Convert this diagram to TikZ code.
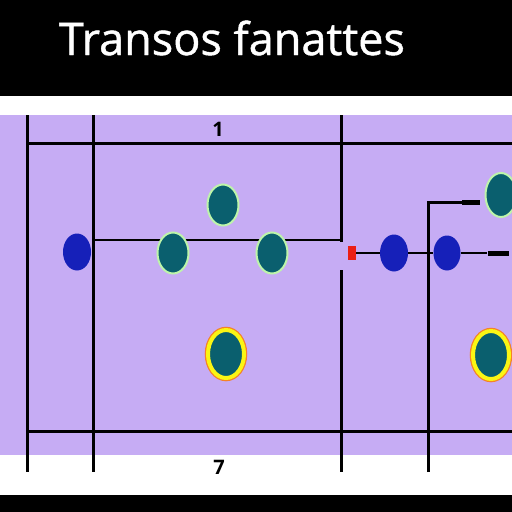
\documentclass[tikz,border=0pt]{standalone}
\usepackage{fontspec}
\setmainfont{Open Sans}
\newfontfamily\titlefont[FakeBold=1]{Open Sans}
\usetikzlibrary{shapes.geometric}
\definecolor{lav}{RGB}{198,172,244}
\definecolor{tealc}{RGB}{10,95,110}
\definecolor{ringg}{RGB}{190,245,170}
\definecolor{blu}{RGB}{22,32,185}
\definecolor{ylw}{RGB}{250,245,20}
\definecolor{org}{RGB}{245,130,40}
\definecolor{redc}{RGB}{235,30,20}
\begin{document}
\begin{tikzpicture}[x=1pt,y=-1pt,
 grid/.style={line width=3pt, black},
 wire/.style={line width=2.5pt, black},
 tealdot/.style={ellipse, fill=tealc, draw=ringg, line width=2pt, minimum width=31pt, minimum height=41pt, inner sep=0pt},
 bluedot/.style={ellipse, fill=blu, minimum width=28pt, minimum height=37pt, inner sep=0pt},
 hotdot/.style={ellipse, fill=tealc, draw=ylw, line width=4pt, preaction={draw=org, line width=6.5pt}, minimum width=36pt, minimum height=48pt, inner sep=0pt},
 tipbox/.style={rectangle, fill=black, minimum width=18pt, minimum height=5pt, inner sep=0pt},
 lbl/.style={font=\fontsize{20}{20}\selectfont\bfseries}
]
\useasboundingbox (0,0) rectangle (512,512);
\fill[white] (0,0) rectangle (512,512);
\fill[black] (0,0) rectangle (512,96);
\fill[lav] (0,115) rectangle (512,455);
\fill[black] (0,495) rectangle (512,512);

\node[text=white, anchor=base, font=\titlefont\fontsize{45}{50}\selectfont] (title) at (232,55) {Transos fanattes};

\coordinate (v1t) at (27,115); \coordinate (v1b) at (27,472);
\coordinate (v2t) at (93,115); \coordinate (v2b) at (93,472);
\coordinate (v3t) at (341,115); \coordinate (v3m) at (341,242);
\coordinate (v3g) at (341,270); \coordinate (v3b) at (341,472);
\coordinate (v4t) at (428,202); \coordinate (v4b) at (428,472);
\coordinate (h1l) at (27,143); \coordinate (h1r) at (512,143);
\coordinate (h2l) at (27,431); \coordinate (h2r) at (512,431);
\coordinate (h3l) at (93,240); \coordinate (h3r) at (341,240);

\draw[grid] (v1t) -- (v1b);
\draw[grid] (v2t) -- (v2b);
\draw[grid] (v3t) -- (v3m);
\draw[grid] (v3g) -- (v3b);
\draw[grid] (h1l) -- (h1r);
\draw[grid] (h2l) -- (h2r);
\draw[wire] (h3l) -- (h3r);

\node[lbl] (n1) at (218,129) {1};
\node[lbl] (n7) at (219,467) {7};

\node[bluedot] (b1) at (77,252) {};
\node[tealdot] (t1) at (223,205) {};
\node[tealdot] (t2) at (173,253) {};
\node[tealdot] (t3) at (272,253) {};
\node[rectangle, fill=redc, minimum width=8pt, minimum height=14pt, inner sep=0pt] (r1) at (352,253) {};
\node[bluedot] (b2) at (394,253) {};
\node[bluedot, minimum width=27pt, minimum height=35pt] (b3) at (447,253) {};
\node[tealdot, minimum height=44pt] (t4) at (501,195) {};
\node[hotdot] (y1) at (226,354) {};
\node[hotdot] (y2) at (491,355) {};
\node[tipbox] (tip1) at (471,202) {};
\node[tipbox, minimum width=21pt] (tip2) at (498,253) {};

\draw[wire] (r1) -- (b2);
\draw[wire] (b2) -- (b3);
\draw[wire] (b3) -- (tip2);
\draw[grid] (v4b) -- (v4t) -- (tip1.west);
\end{tikzpicture}
\end{document}
